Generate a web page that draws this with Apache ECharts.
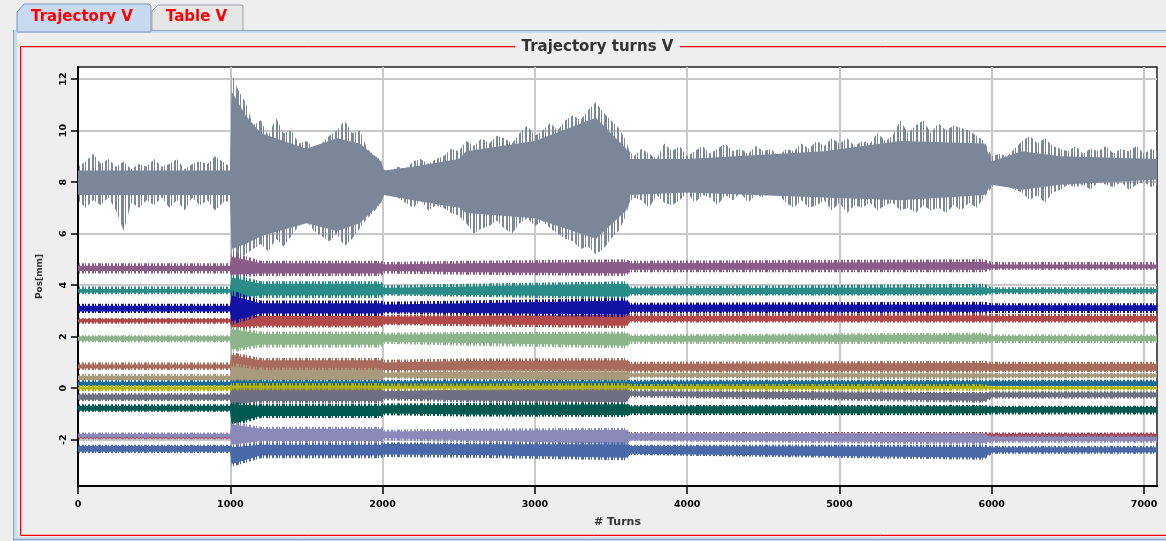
<!DOCTYPE html>
<html>
<head>
<meta charset="utf-8">
<script src="https://cdn.jsdelivr.net/npm/echarts@6/dist/echarts.min.js"></script>
<style>html,body{margin:0;padding:0;background:#eeeeee;}#c{width:1166px;height:541px;}</style>
</head>
<body>
<div id="c"></div>
<script>
// ---------- tick labels ----------
const xTicks = [0, 1000, 2000, 3000, 4000, 5000, 6000, 7000];
const yTicks = [-2, 0, 2, 4, 6, 8, 10, 12];

// ---------- main (gray) trace: spike envelope ----------
const grayTurns = [0,50,100,150,200,250,300,350,400,450,500,550,600,650,700,750,800,850,900,950,1000,
1010,1050,1100,1150,1200,1250,1300,1350,1400,1450,1500,1550,1600,1650,1700,1750,1800,1850,1900,1950,1990,
2000,2050,2100,2150,2200,2250,2300,2350,2400,2450,2500,2550,2600,2650,2700,2750,2800,2850,2900,2950,
3000,3050,3100,3150,3200,3250,3300,3350,3400,3450,3500,3550,3600,3620,3650,3700,3750,3800,3850,3900,3950,
4000,4050,4100,4150,4200,4250,4300,4350,4400,4450,4500,4550,4600,4650,4700,4750,4800,4850,4900,4950,
5000,5050,5100,5150,5200,5250,5300,5350,5400,5450,5500,5550,5600,5650,5700,5750,5800,5850,5900,5950,
6000,6050,6100,6150,6200,6250,6300,6350,6400,6450,6500,6550,6600,6650,6700,6750,6800,6850,6900,6950,
7000,7050,7085];
const grayHi = [8.6,8.8,9.1,8.7,8.9,8.6,8.8,8.5,8.7,8.6,8.9,8.6,8.7,8.9,8.5,8.7,8.8,8.7,9.0,8.8,8.6,
12.2,11.6,11.1,10.2,10.4,9.8,10.5,9.9,10.0,9.5,9.6,9.3,9.5,9.8,10.0,10.4,9.9,10.0,9.3,9.0,8.9,
8.5,8.4,8.6,8.5,8.8,8.9,8.7,8.9,9.0,9.3,9.2,9.6,9.4,9.7,9.5,9.8,9.7,9.5,9.9,10.2,
9.8,10.0,10.3,10.0,10.4,10.6,10.4,10.8,11.1,10.7,10.4,10.1,9.6,9.2,9.0,9.3,9.1,8.9,9.5,9.2,9.4,
9.0,9.2,9.4,9.1,9.3,9.5,9.2,9.3,9.1,9.4,9.2,9.3,9.0,9.3,9.2,9.5,9.3,9.6,9.4,9.7,
9.5,9.7,9.4,9.6,9.5,9.9,9.6,9.8,10.4,9.9,10.2,10.4,9.9,10.3,10.0,10.2,10.1,10.0,9.8,9.6,
9.0,9.1,9.0,9.3,9.6,9.8,9.5,9.7,9.4,9.3,9.2,9.4,9.1,9.3,9.2,9.4,9.1,9.3,9.2,9.4,
9.1,9.3,9.2];
const grayLo = [7.3,7.0,7.3,7.1,7.4,6.9,6.1,7.2,7.0,7.3,7.1,7.4,7.0,7.3,6.9,7.4,7.1,7.3,6.9,7.2,7.3,
4.9,5.0,5.2,5.4,5.6,5.3,5.8,5.5,5.9,6.3,6.5,6.1,5.9,5.7,6.0,5.5,5.8,6.2,6.6,6.9,7.2,
7.6,7.7,7.4,7.2,7.0,7.3,6.9,7.1,7.0,6.8,6.7,6.4,6.0,6.2,6.3,6.5,6.2,6.0,6.4,6.6,
6.3,6.5,6.2,6.0,5.8,5.7,5.4,5.5,5.2,5.4,5.8,6.1,6.7,7.2,7.4,7.3,7.0,7.5,7.2,7.1,7.3,
7.6,7.2,7.5,7.4,7.1,7.5,7.3,7.6,7.2,7.5,7.4,7.7,7.5,7.2,7.0,7.3,7.0,7.1,7.3,6.9,
7.2,6.8,7.1,7.0,7.2,6.9,7.1,7.2,6.9,7.0,6.8,7.1,6.9,7.0,6.8,7.1,6.9,7.2,7.0,7.4,
7.8,8.0,7.9,7.7,7.6,7.3,7.5,7.2,7.6,7.7,7.9,7.8,7.9,7.7,8.0,7.9,7.8,8.0,7.7,7.9,
8.0,7.8,7.9];
// dense (gap-free) part of the gray trace
const grayCoreTurns = [0, 1000, 1010, 1100, 1200, 1500, 1700, 1850, 1990, 2010, 2200, 2500, 2550, 3000, 3400, 3600, 3620, 4000, 4900, 5400, 5950, 6000, 6200, 6450, 7085];
const grayCoreLo = [7.5, 7.5, 5.4, 5.6, 5.9, 6.4, 6.1, 6.4, 7.2, 7.5, 7.3, 7.0, 6.8, 6.6, 5.8, 6.9, 7.5, 7.6, 7.4, 7.3, 7.5, 7.9, 7.7, 7.9, 8.1];
const grayCoreHi = [8.45, 8.45, 11.5, 10.6, 9.9, 9.3, 9.7, 9.5, 8.8, 8.45, 8.6, 8.9, 9.2, 9.6, 10.5, 9.3, 8.9, 8.9, 9.2, 9.6, 9.5, 8.8, 9.2, 9.0, 8.9];

// ---------- other traces: envelope (outer) and dense core at these turns ----------
const bandTurns = [0, 1000, 1010, 1200, 1990, 2010, 2550, 3600, 3620, 5950, 6000, 7085];

const purpleOuterLo = [4.45,4.45,4.30,4.35,4.35,4.45,4.40,4.35,4.50,4.50,4.60,4.60];
const purpleOuterHi = [4.85,4.85,5.30,4.95,4.95,4.90,4.95,5.00,4.95,5.00,4.90,4.90];
const purpleCoreLo  = [4.55,4.55,4.40,4.45,4.45,4.55,4.50,4.45,4.60,4.60,4.65,4.65];
const purpleCoreHi  = [4.75,4.75,5.10,4.85,4.85,4.80,4.85,4.90,4.85,4.90,4.80,4.80];

const tealOuterLo = [3.65,3.65,3.40,3.50,3.50,3.60,3.55,3.45,3.60,3.60,3.65,3.65];
const tealOuterHi = [3.95,3.95,4.45,4.15,4.15,4.00,4.05,4.15,3.95,4.05,3.92,3.92];
const tealCoreLo  = [3.70,3.70,3.50,3.60,3.60,3.65,3.62,3.55,3.65,3.65,3.70,3.70];
const tealCoreHi  = [3.85,3.85,4.30,4.05,4.05,3.90,3.95,4.05,3.88,3.92,3.85,3.85];

const redOuterLo = [2.50,2.50,2.25,2.35,2.35,2.45,2.40,2.33,2.55,2.55,2.55,2.55];
const redOuterHi = [2.72,2.72,2.95,2.88,2.88,2.85,2.88,2.93,2.88,2.90,2.88,2.88];
const redCoreLo  = [2.55,2.55,2.35,2.42,2.42,2.50,2.48,2.42,2.60,2.60,2.60,2.60];
const redCoreHi  = [2.68,2.68,2.85,2.80,2.80,2.78,2.80,2.85,2.80,2.82,2.80,2.80];

const blueOuterLo = [2.92,2.92,2.45,2.80,2.80,2.90,2.85,2.75,2.90,2.90,2.92,2.92];
const blueOuterHi = [3.28,3.28,3.80,3.40,3.40,3.35,3.40,3.50,3.32,3.35,3.30,3.30];
const blueCoreLo  = [2.98,2.98,2.60,2.90,2.90,2.95,2.92,2.85,2.97,2.97,3.00,3.00];
const blueCoreHi  = [3.20,3.20,3.60,3.30,3.30,3.25,3.30,3.40,3.25,3.25,3.22,3.22];

const greenOuterLo = [1.78,1.78,1.40,1.58,1.58,1.72,1.65,1.55,1.72,1.72,1.75,1.75];
const greenOuterHi = [2.05,2.05,2.40,2.20,2.20,2.15,2.18,2.20,2.08,2.15,2.08,2.08];
const greenCoreLo  = [1.84,1.84,1.50,1.68,1.68,1.80,1.75,1.65,1.80,1.80,1.82,1.82];
const greenCoreHi  = [2.00,2.00,2.30,2.10,2.10,2.08,2.10,2.12,2.02,2.08,2.02,2.02];

const brownOuterLo = [0.70,0.70,0.60,0.62,0.62,0.63,0.60,0.58,0.63,0.63,0.63,0.63];
const brownOuterHi = [1.00,1.00,1.40,1.17,1.17,1.10,1.15,1.17,1.02,1.05,1.02,1.02];
const brownCoreLo  = [0.76,0.76,0.70,0.70,0.70,0.70,0.68,0.66,0.68,0.68,0.68,0.68];
const brownCoreHi  = [0.92,0.92,1.30,1.08,1.08,1.00,1.05,1.08,0.95,0.98,0.95,0.95];

const tanOuterLo = [0.28,0.28,0.06,0.25,0.25,0.38,0.30,0.20,0.40,0.35,0.38,0.38];
const tanOuterHi = [0.55,0.55,0.98,0.80,0.78,0.65,0.72,0.72,0.62,0.62,0.60,0.60];
const tanCoreLo  = [0.32,0.32,0.15,0.30,0.30,0.42,0.36,0.28,0.44,0.40,0.42,0.42];
const tanCoreHi  = [0.48,0.48,0.85,0.70,0.70,0.60,0.65,0.65,0.58,0.57,0.56,0.56];

const cyanOuterLo = [0.04,0.04,0.04,0.04,0.04,0.04,0.04,0.04,0.04,0.04,0.04,0.04];
const cyanOuterHi = [0.30,0.30,0.33,0.33,0.33,0.33,0.33,0.33,0.33,0.33,0.33,0.33];
const cyanCoreLo  = [0.08,0.08,0.08,0.08,0.08,0.08,0.08,0.08,0.08,0.08,0.08,0.08];
const cyanCoreHi  = [0.25,0.25,0.27,0.27,0.27,0.27,0.27,0.27,0.27,0.27,0.27,0.27];

const slateOuterLo = [-0.50,-0.50,-0.75,-0.60,-0.60,-0.47,-0.55,-0.65,-0.35,-0.57,-0.40,-0.40];
const slateOuterHi = [-0.20,-0.20,0.20,0.05,0.05,-0.07,0.00,0.05,-0.07,-0.15,-0.12,-0.12];
const slateCoreLo  = [-0.45,-0.45,-0.65,-0.50,-0.50,-0.40,-0.48,-0.55,-0.30,-0.50,-0.35,-0.35];
const slateCoreHi  = [-0.25,-0.25,0.10,0.00,0.00,-0.12,-0.05,0.00,-0.12,-0.20,-0.17,-0.17];

const yellowOuterLo = [-0.12,-0.12,-0.08,-0.08,-0.08,-0.08,-0.08,-0.08,-0.08,-0.10,-0.08,-0.08];
const yellowOuterHi = [0.12,0.12,0.20,0.20,0.20,0.18,0.18,0.20,0.16,0.16,0.08,0.08];
const yellowCoreLo  = [-0.05,-0.05,0.00,0.00,0.00,0.00,0.00,0.00,-0.02,-0.02,-0.03,-0.03];
const yellowCoreHi  = [0.05,0.05,0.10,0.10,0.10,0.09,0.09,0.10,0.08,0.08,0.04,0.04];

const darkTealOuterLo = [-0.92,-0.92,-1.50,-1.16,-1.16,-1.05,-1.10,-1.12,-1.04,-1.05,-1.02,-1.02];
const darkTealOuterHi = [-0.63,-0.63,-0.55,-0.62,-0.62,-0.60,-0.58,-0.57,-0.65,-0.65,-0.68,-0.68];
const darkTealCoreLo  = [-0.88,-0.88,-1.40,-1.08,-1.08,-0.98,-1.02,-1.05,-0.98,-0.98,-0.96,-0.96];
const darkTealCoreHi  = [-0.68,-0.68,-0.62,-0.68,-0.68,-0.66,-0.65,-0.63,-0.70,-0.70,-0.73,-0.73];

const maroonOuterLo = [-1.98,-1.98,-1.98,-1.98,-1.98,-1.98,-1.98,-1.98,-1.95,-1.95,-1.95,-1.95];
const maroonOuterHi = [-1.86,-1.86,-1.80,-1.80,-1.80,-1.80,-1.75,-1.72,-1.70,-1.70,-1.72,-1.72];
const maroonCoreLo  = [-1.96,-1.96,-1.94,-1.94,-1.94,-1.94,-1.94,-1.94,-1.90,-1.90,-1.90,-1.90];
const maroonCoreHi  = [-1.90,-1.90,-1.85,-1.85,-1.85,-1.85,-1.80,-1.78,-1.76,-1.76,-1.77,-1.77];

const lavenderOuterLo = [-1.95,-1.95,-2.30,-2.15,-2.15,-2.02,-2.10,-2.28,-2.05,-2.20,-2.12,-2.12];
const lavenderOuterHi = [-1.72,-1.72,-1.30,-1.50,-1.50,-1.62,-1.58,-1.54,-1.72,-1.75,-1.85,-1.85];
const lavenderCoreLo  = [-1.90,-1.90,-2.20,-2.05,-2.05,-1.95,-2.02,-2.18,-2.00,-2.12,-2.06,-2.06];
const lavenderCoreHi  = [-1.77,-1.77,-1.40,-1.58,-1.58,-1.68,-1.65,-1.62,-1.78,-1.80,-1.90,-1.90];

const steelOuterLo = [-2.52,-2.52,-3.05,-2.72,-2.72,-2.67,-2.70,-2.80,-2.60,-2.78,-2.55,-2.55];
const steelOuterHi = [-2.20,-2.20,-2.25,-2.13,-2.13,-2.10,-2.12,-2.10,-2.20,-2.20,-2.25,-2.25];
const steelCoreLo  = [-2.47,-2.47,-2.95,-2.62,-2.62,-2.58,-2.60,-2.70,-2.55,-2.70,-2.50,-2.50];
const steelCoreHi  = [-2.25,-2.25,-2.30,-2.20,-2.20,-2.17,-2.18,-2.18,-2.25,-2.28,-2.30,-2.30];

// ---------- styling (colours, drawing order) ----------
const bands = [
  {name:'purple',   color:'#8b5b89', oLo:purpleOuterLo,   oHi:purpleOuterHi,   cLo:purpleCoreLo,   cHi:purpleCoreHi},
  {name:'teal',     color:'#2a8c88', oLo:tealOuterLo,     oHi:tealOuterHi,     cLo:tealCoreLo,     cHi:tealCoreHi},
  {name:'red',      color:'#b24a4a', oLo:redOuterLo,      oHi:redOuterHi,      cLo:redCoreLo,      cHi:redCoreHi},
  {name:'blue',     color:'#1212a4', oLo:blueOuterLo,     oHi:blueOuterHi,     cLo:blueCoreLo,     cHi:blueCoreHi},
  {name:'green',    color:'#8db58c', oLo:greenOuterLo,    oHi:greenOuterHi,    cLo:greenCoreLo,    cHi:greenCoreHi},
  {name:'brown',    color:'#a96b5b', oLo:brownOuterLo,    oHi:brownOuterHi,    cLo:brownCoreLo,    cHi:brownCoreHi},
  {name:'tan',      color:'#a99a7b', oLo:tanOuterLo,      oHi:tanOuterHi,      cLo:tanCoreLo,      cHi:tanCoreHi},
  {name:'cyan',     color:'#1b6b9a', oLo:cyanOuterLo,     oHi:cyanOuterHi,     cLo:cyanCoreLo,     cHi:cyanCoreHi},
  {name:'slate',    color:'#6f6f83', oLo:slateOuterLo,    oHi:slateOuterHi,    cLo:slateCoreLo,    cHi:slateCoreHi},
  {name:'yellow',   color:'#b3b300', oLo:yellowOuterLo,   oHi:yellowOuterHi,   cLo:yellowCoreLo,   cHi:yellowCoreHi},
  {name:'darkTeal', color:'#005a50', oLo:darkTealOuterLo, oHi:darkTealOuterHi, cLo:darkTealCoreLo, cHi:darkTealCoreHi},
  {name:'maroon',   color:'#a3475a', oLo:maroonOuterLo,   oHi:maroonOuterHi,   cLo:maroonCoreLo,   cHi:maroonCoreHi},
  {name:'lavender', color:'#8a89b9', oLo:lavenderOuterLo, oHi:lavenderOuterHi, cLo:lavenderCoreLo, cHi:lavenderCoreHi},
  {name:'steel',    color:'#4a69a8', oLo:steelOuterLo,    oHi:steelOuterHi,    cLo:steelCoreLo,    cHi:steelCoreHi}
];
const GRAY = '#7b8799';

// texture for the sparse (spiky) fringe of each trace: thin vertical strokes
function stripePattern(color) {
  const c = document.createElement('canvas');
  c.width = 23; c.height = 4;
  const ctx = c.getContext('2d');
  ctx.fillStyle = color;
  [0, 1, 3, 6, 7, 8, 10, 13, 14, 16, 19, 20].forEach(function (x) { ctx.fillRect(x, 0, 1, 4); });
  return {image: c, repeat: 'repeat'};
}

function envelopeSeries(name, fill, turns, lo, hi) {
  return {
    type: 'custom', name: name, silent: true, animation: false,
    coordinateSystem: 'cartesian2d',
    encode: {x: 0, y: [1, 2]},
    data: turns.map(function (t, i) { return [t, lo[i], hi[i]]; }),
    renderItem: function (params, api) {
      if (params.dataIndex !== 0) return null;
      var top = [], bot = [];
      for (var i = 0; i < turns.length; i++) {
        top.push(api.coord([turns[i], hi[i]]));
        bot.push(api.coord([turns[i], lo[i]]));
      }
      return {type: 'polygon', shape: {points: top.concat(bot.reverse())}, style: {fill: fill}};
    }
  };
}

const series = [
  envelopeSeries('gray spikes', stripePattern(GRAY), grayTurns, grayLo, grayHi),
  envelopeSeries('gray', GRAY, grayCoreTurns, grayCoreLo, grayCoreHi)
];
bands.forEach(function (b) {
  series.push(envelopeSeries(b.name + ' spikes', stripePattern(b.color), bandTurns, b.oLo, b.oHi));
  series.push(envelopeSeries(b.name, b.color, bandTurns, b.cLo, b.cHi));
});

const FONT = 'DejaVu Sans';
const chart = echarts.init(document.getElementById('c'), null, {renderer: 'canvas'});
chart.setOption({
  backgroundColor: '#eeeeee',
  animation: false,
  grid: {left: 78, right: 9, top: 67, bottom: 55, show: true, backgroundColor: '#ffffff',
         borderColor: '#222222', borderWidth: 1.5},
  xAxis: {
    type: 'value', min: 0, max: 7085,
    name: '# Turns', nameLocation: 'middle', nameGap: 31,
    nameTextStyle: {fontFamily: FONT, fontSize: 11, fontWeight: 'bold', color: '#333'},
    axisLine: {show: true, onZero: false, lineStyle: {color: '#000', width: 2}},
    axisTick: {show: true, length: 8, customValues: xTicks, lineStyle: {color: '#000', width: 1.5}},
    axisLabel: {customValues: xTicks, margin: 14, fontFamily: FONT, fontSize: 9.5, fontWeight: 'bold', color: '#000',
                formatter: function (v) { return String(v); }},
    splitLine: {show: true, lineStyle: {color: '#c8c8c8', width: 2}}
  },
  yAxis: {
    type: 'value', min: -3.8, max: 12.47,
    name: 'Pos[mm]', nameLocation: 'middle', nameGap: 34, nameRotate: 90,
    nameTextStyle: {fontFamily: FONT, fontSize: 9, fontWeight: 'bold', color: '#333'},
    axisLine: {show: true, onZero: false, lineStyle: {color: '#000', width: 2}},
    axisTick: {show: true, length: 7, customValues: yTicks, lineStyle: {color: '#000', width: 1.5}},
    axisLabel: {customValues: yTicks, rotate: 90, margin: 9, fontFamily: FONT, fontSize: 9.5, fontWeight: 'bold', color: '#000',
                formatter: function (v) { return String(v); }},
    splitLine: {show: true, lineStyle: {color: '#c8c8c8', width: 2}}
  },
  graphic: {elements: [
    // tab strip
    {type: 'polygon', z: 1, shape: {points: [[152,31],[152,11],[158,5],[242,5],[243,6],[243,31]]},
     style: {fill: '#e6e6e6', stroke: '#9aa3ad', lineWidth: 1}},
    {type: 'polygon', z: 2, shape: {points: [[17,32],[17,12],[24,4],[149,4],[151,6],[151,32]]},
     style: {fill: '#c8daf0', stroke: '#7d97bd', lineWidth: 1}},
    {type: 'text', z: 3, style: {x: 82, y: 17, text: 'Trajectory V', align: 'center', verticalAlign: 'middle',
     font: 'bold 15px "DejaVu Sans"', fill: '#ff0000'}},
    {type: 'text', z: 3, style: {x: 196.5, y: 17, text: 'Table V', align: 'center', verticalAlign: 'middle',
     font: 'bold 15px "DejaVu Sans"', fill: '#ff0000'}},
    // tab panel border
    {type: 'rect', z: 1, shape: {x: 14, y: 30, width: 1160, height: 3}, style: {fill: '#c8daf0'}},
    {type: 'rect', z: 1, shape: {x: 13, y: 30, width: 4, height: 511}, style: {fill: '#c8daf0'}},
    {type: 'line', z: 2, shape: {x1: 151, y1: 30.5, x2: 1166, y2: 30.5}, style: {stroke: '#8ea4c4', lineWidth: 1}},
    {type: 'line', z: 2, shape: {x1: 13.5, y1: 30, x2: 13.5, y2: 541}, style: {stroke: '#8ea4c4', lineWidth: 1}},
    {type: 'rect', z: 1, shape: {x: 13, y: 537, width: 1160, height: 4}, style: {fill: '#c8daf0'}},
    {type: 'line', z: 2, shape: {x1: 13, y1: 539.5, x2: 1166, y2: 539.5}, style: {stroke: '#8ea4c4', lineWidth: 1}},
    // red titled border
    {type: 'rect', z: 2, shape: {x: 20.5, y: 46.5, width: 1200, height: 489}, style: {fill: 'none', stroke: '#ff0000', lineWidth: 1}},
    {type: 'rect', z: 2, shape: {x: 21.5, y: 47.5, width: 1200, height: 487}, style: {fill: 'none', stroke: '#ffaaaa', lineWidth: 1}},
    {type: 'rect', z: 3, shape: {x: 515, y: 38, width: 165, height: 18}, style: {fill: '#eeeeee'}},
    {type: 'text', z: 4, style: {x: 597.5, y: 47, text: 'Trajectory turns V', align: 'center', verticalAlign: 'middle',
     font: 'bold 15px "DejaVu Sans"', fill: '#333333'}}
  ]},
  series: series
});
</script>
</body>
</html>
